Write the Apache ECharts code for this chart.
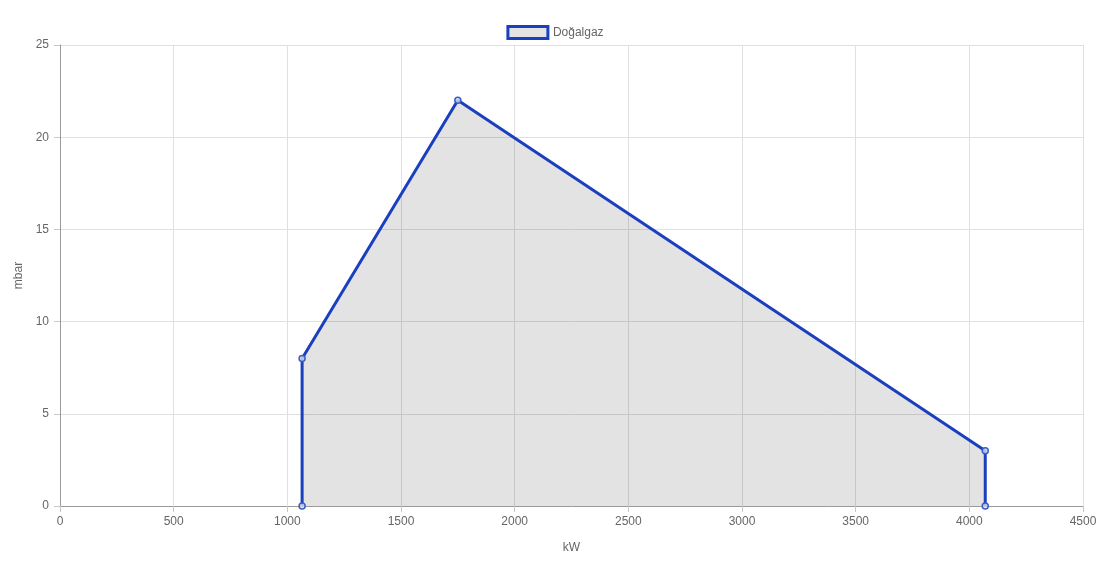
<!DOCTYPE html>
<html><head><meta charset="utf-8">
<script src="https://cdn.jsdelivr.net/npm/echarts@6/dist/echarts.min.js"></script>
<style>html,body{margin:0;padding:0;background:#fff}#c{width:1110px;height:571px}</style>
</head><body><div id="c"></div>
<script>
const seriesName = 'Doğalgaz';
const powerKW = [1065, 1065, 1750, 4070, 4070];
const pressureMbar = [0, 8, 22, 3, 0];
const xTicks = [0, 500, 1000, 1500, 2000, 2500, 3000, 3500, 4000, 4500];
const yTicks = [0, 5, 10, 15, 20, 25];

const chart = echarts.init(document.getElementById('c'));
const font = 'Liberation Sans, Arial, sans-serif';
chart.setOption({
  animation: false,
  textStyle: {fontFamily: font},
  legend: {
    top: 20, left: 'center', itemWidth: 40, itemHeight: 12, itemGap: 10,
    textStyle: {color: '#666', fontSize: 12, fontFamily: font},
    data: [{name: seriesName, icon: 'rect', itemStyle: {color: '#e4e4e4', borderColor: '#1a3fbf', borderWidth: 3}}]
  },
  grid: {left: 60, right: 27, top: 45, bottom: 65, containLabel: false},
  xAxis: {
    type: 'value', min: xTicks[0], max: xTicks[xTicks.length - 1], interval: xTicks[1] - xTicks[0],
    name: 'kW', nameLocation: 'middle', nameGap: 36,
    nameTextStyle: {color: '#666', fontSize: 12},
    axisLine: {show: true, onZero: false, lineStyle: {color: '#999'}},
    axisTick: {show: true, length: 6, lineStyle: {color: '#c8c8c8'}},
    axisLabel: {color: '#666', fontSize: 12, margin: 10, formatter: v => String(v)},
    splitLine: {show: true, lineStyle: {color: '#e0e0e0'}}
  },
  yAxis: {
    type: 'value', min: yTicks[0], max: yTicks[yTicks.length - 1], interval: yTicks[1] - yTicks[0],
    name: 'mbar', nameLocation: 'middle', nameGap: 33,
    nameTextStyle: {color: '#666', fontSize: 12},
    axisLine: {show: true, onZero: false, lineStyle: {color: '#999'}},
    axisTick: {show: true, length: 6, lineStyle: {color: '#c8c8c8'}},
    axisLabel: {color: '#666', fontSize: 12, margin: 11, formatter: v => String(v)},
    splitLine: {show: true, lineStyle: {color: '#e0e0e0'}}
  },
  series: [{
    name: seriesName, type: 'line',
    data: powerKW.map((x, i) => [x, pressureMbar[i]]),
    symbol: 'circle', symbolSize: 6, showAllSymbol: true,
    lineStyle: {color: '#1a3fbf', width: 3},
    itemStyle: {color: 'rgba(220,222,235,0.8)', borderColor: '#3a5cc8', borderWidth: 1.5},
    areaStyle: {color: 'rgba(0,0,0,0.11)', opacity: 1, origin: 'start'}
  }]
});
</script></body></html>
